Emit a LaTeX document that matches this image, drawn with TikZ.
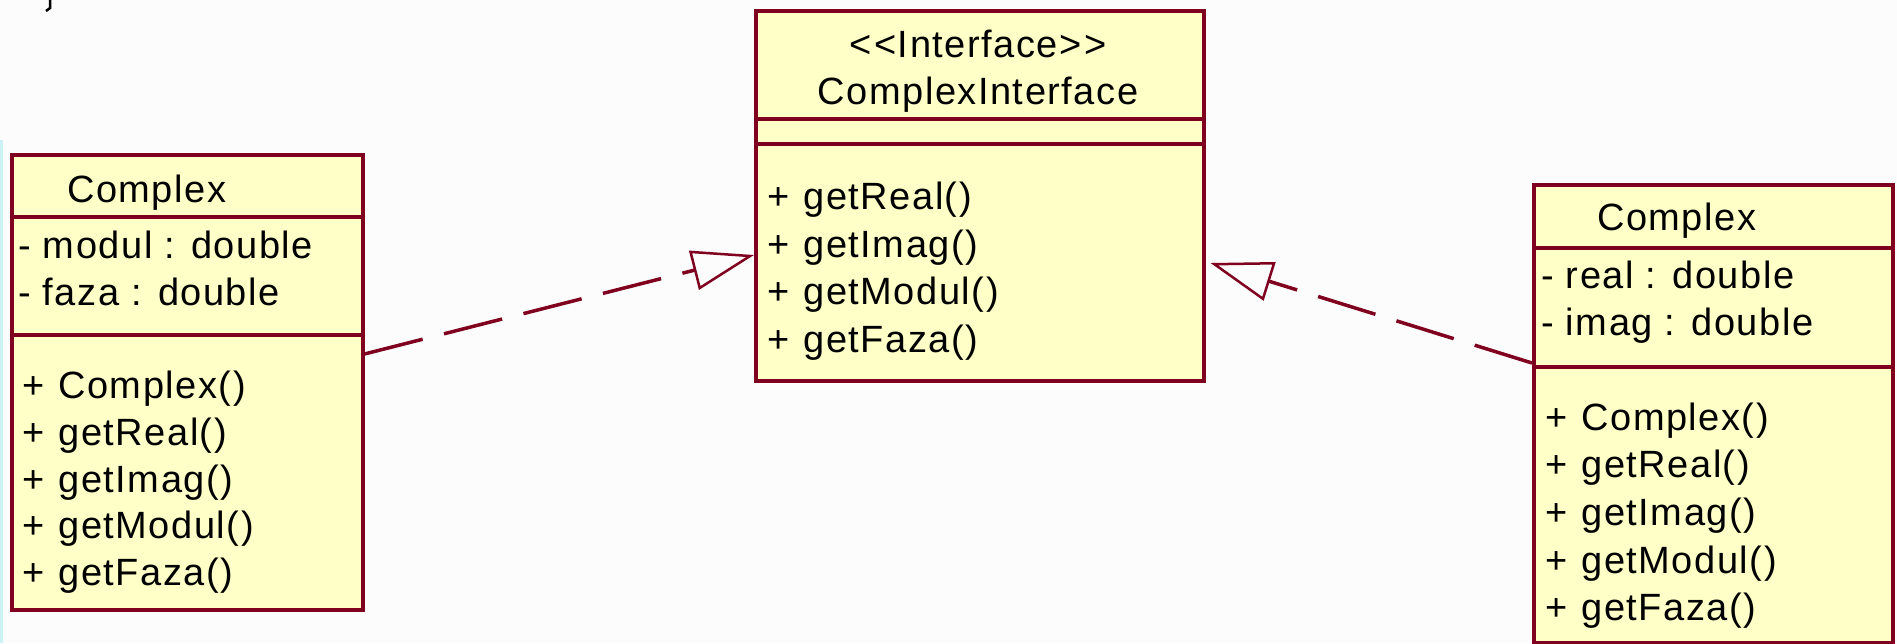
\documentclass[tikz,border=0pt]{standalone}
\usepackage{fontspec}
\setmainfont{Liberation Sans}[LetterSpace=4]
\usetikzlibrary{arrows.meta}
\definecolor{umlred}{RGB}{128,0,32}
\definecolor{umlfill}{RGB}{255,255,200}
\definecolor{bgc}{RGB}{252,252,252}
\definecolor{stripc}{RGB}{205,242,246}
\tikzset{
  umlbox/.style={draw=umlred, fill=umlfill, line width=3.5pt, rectangle, anchor=north west, inner sep=0pt},
  divline/.style={draw=umlred, line width=3.5pt},
  txt/.style={anchor=base west, inner sep=0pt, font=\fontsize{38}{44}\selectfont},
  ctxt/.style={anchor=base, inner sep=0pt, font=\fontsize{38}{44}\selectfont},
  realize/.style={draw=umlred, line width=3.5pt, dash pattern=on 60pt off 22pt,
    -{Triangle[open, length=62pt, width=40pt, line width=2.5pt]}}
}
\begin{document}
\begin{tikzpicture}[x=1pt, y=-1pt]
\useasboundingbox (0,0) rectangle (1897,643);
\fill[bgc] (0,0) rectangle (1897,643);
\fill[stripc] (0,140) rectangle (3,643);
\draw[line width=2.5pt, black] (50,0) -- (50,8) -- (46,11);

% left class
\node[umlbox, minimum width=351pt, minimum height=455pt] (left) at (10,153) {};
\draw[divline] (left.west |- 0,217) -- (left.east |- 0,217);
\draw[divline] (left.west |- 0,335) -- (left.east |- 0,335);
\node[txt] (l0) at (67,202) {Complex};
\node[txt] (l1) at (18,258) {- modul : double};
\node[txt] (l2) at (18,305) {- faza : double};
\node[txt] (l3) at (22,398) {+\hspace{14pt}Complex()};
\node[txt] (l4) at (22,445) {+\hspace{14pt}getReal()};
\node[txt] (l5) at (22,492) {+\hspace{14pt}getImag()};
\node[txt] (l6) at (22,538) {+\hspace{14pt}getModul()};
\node[txt] (l7) at (22,585) {+\hspace{14pt}getFaza()};

% middle interface
\node[umlbox, minimum width=448pt, minimum height=370pt] (mid) at (754,9) {};
\draw[divline] (mid.west |- 0,119) -- (mid.east |- 0,119);
\draw[divline] (mid.west |- 0,144) -- (mid.east |- 0,144);
\node[ctxt] (m0) at (978,57) {<\kern3pt<Interface>\kern3pt>};
\node[ctxt] (m1) at (978,104) {ComplexInterface};
\node[txt] (m2) at (767,209) {+\hspace{14pt}getReal()};
\node[txt] (m3) at (767,257) {+\hspace{14pt}getImag()};
\node[txt] (m4) at (767,304) {+\hspace{14pt}getModul()};
\node[txt] (m5) at (767,352) {+\hspace{14pt}getFaza()};

% right class
\node[umlbox, minimum width=359pt, minimum height=458pt] (right) at (1532,183) {};
\draw[divline] (right.west |- 0,248) -- (right.east |- 0,248);
\draw[divline] (right.west |- 0,367) -- (right.east |- 0,367);
\node[txt] (r0) at (1597,230) {Complex};
\node[txt] (r1) at (1541,288) {- real : double};
\node[txt] (r2) at (1541,335) {- imag : double};
\node[txt] (r3) at (1545,430) {+\hspace{14pt}Complex()};
\node[txt] (r4) at (1545,477) {+\hspace{14pt}getReal()};
\node[txt] (r5) at (1545,525) {+\hspace{14pt}getImag()};
\node[txt] (r6) at (1545,573) {+\hspace{14pt}getModul()};
\node[txt] (r7) at (1545,620) {+\hspace{14pt}getFaza()};

% realizations
\coordinate (lfrom) at (left.east |- 0,354);
\coordinate (lto) at (mid.west |- 0,255);
\coordinate (rfrom) at (right.west |- 0,363);
\coordinate (rto) at ([xshift=5pt]mid.east |- 0,263);
\draw[realize] (lfrom) -- (lto);
\draw[realize] (rfrom) -- (rto);
\end{tikzpicture}
\end{document}
